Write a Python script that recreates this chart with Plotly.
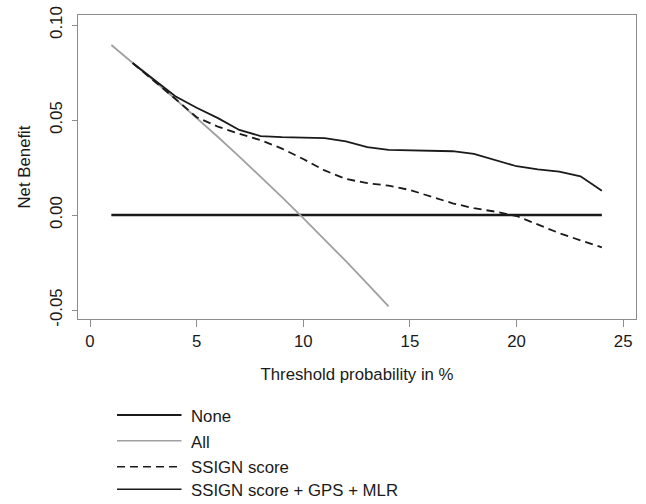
import plotly.graph_objects as go

# ---- data ----
thr_none = [1, 24]
nb_none = [0.0, 0.0]

thr_all = [1, 2, 3, 4, 5, 6, 7, 8, 9, 10, 11, 12, 13, 14]
nb_all = [0.0895, 0.0802, 0.0707, 0.0610, 0.0512, 0.0411, 0.0308, 0.0202,
          0.0094, -0.0016, -0.0128, -0.0243, -0.0361, -0.0481]

thr_model = list(range(2, 25))
nb_ssign = [0.0800, 0.0708, 0.0612, 0.0515, 0.0465, 0.0428, 0.0394, 0.0350,
            0.0295, 0.0235, 0.0190, 0.0168, 0.0155, 0.0132, 0.0098, 0.0062,
            0.0036, 0.0018, -0.0005, -0.0050, -0.0095, -0.0133, -0.0170]
nb_full = [0.0800, 0.0712, 0.0625, 0.0565, 0.0510, 0.0448, 0.0416, 0.0410,
           0.0409, 0.0405, 0.0388, 0.0358, 0.0343, 0.0340, 0.0339, 0.0336,
           0.0322, 0.0290, 0.0257, 0.0241, 0.0229, 0.0204, 0.0128]

x_ticks = [0, 5, 10, 15, 20, 25]
y_ticks = [-0.05, 0.0, 0.05, 0.10]
y_tick_text = ["-0.05", "0.00", "0.05", "0.10"]

legend_names = ["None", "All", "SSIGN score", "SSIGN score + GPS + MLR"]

# ---- styling ----
FONT = "Liberation Sans, Arial, Helvetica, sans-serif"
FS = 16.8
W, H = 646, 504
L, R, T, B = 78, 10, 15, 185
GRAY = "#8c8c8c"
INK = "#1a1a1a"

styles = [
    dict(color=INK, width=2.6, dash="solid"),
    dict(color="#a0a0a0", width=1.8, dash="solid"),
    dict(color=INK, width=1.8, dash="8px,5px"),
    dict(color=INK, width=1.8, dash="solid"),
]

fig = go.Figure()
series = [(thr_none, nb_none), (thr_all, nb_all),
          (thr_model, nb_ssign), (thr_model, nb_full)]
for (xs, ys), name, st in zip(series, legend_names, styles):
    fig.add_trace(go.Scatter(x=xs, y=ys, mode="lines", name=name,
                             line=st, showlegend=False,
                             hoverinfo="skip"))

# manual legend below the plot (pixel positions converted to paper coords)
pw, ph = W - L - R, H - T - B
def px2paper(xp, yp):
    return (xp - L) / pw, (H - B - yp) / ph

legend_line_y = [415.0, 440.7, 466.7, 489.3]
legend_text_y = [416.5, 442.5, 467.5, 490.0]
legend_lw = [2.2, 1.4, 1.6, 1.6]
for name, st, ly, ty, lw in zip(legend_names, styles, legend_line_y,
                                legend_text_y, legend_lw):
    x0, y0 = px2paper(117, ly)
    x1, _ = px2paper(181.5, ly)
    fig.add_shape(type="line", xref="paper", yref="paper",
                  x0=x0, x1=x1, y0=y0, y1=y0,
                  line=dict(color=st["color"], width=lw, dash=st["dash"]))
    tx, typ = px2paper(190, ty)
    fig.add_annotation(xref="paper", yref="paper", x=tx, y=typ, text=name,
                       showarrow=False, xanchor="left", yanchor="middle",
                       borderpad=0,
                       font=dict(family=FONT, size=FS, color=INK))

axis_common = dict(showgrid=False, zeroline=False, showline=True,
                   linecolor=GRAY, linewidth=1, mirror=True,
                   ticks="outside", tickcolor=GRAY, tickwidth=1,
                   automargin=False,
                   tickfont=dict(family=FONT, size=FS, color=INK))

fig.update_layout(
    template="none",
    width=W, height=H,
    margin=dict(l=L, r=R, t=T, b=B, autoexpand=False),
    paper_bgcolor="white", plot_bgcolor="white",
    font=dict(family=FONT, size=FS, color=INK),
    xaxis=dict(range=[-0.5625, 25.6], tickvals=x_ticks, ticklen=7,
               title=dict(text="Threshold probability in %", standoff=18,
                          font=dict(family=FONT, size=FS)),
               **axis_common),
    yaxis=dict(range=[-0.0547, 0.1053], tickvals=y_ticks,
               ticktext=y_tick_text, tickangle=-90, ticklen=5,
               ticklabelstandoff=3,
               title=dict(text="Net Benefit", standoff=12,
                          font=dict(family=FONT, size=FS)),
               **axis_common),
)

fig.write_html("out.html",
               config={"displayModeBar": False, "staticPlot": True},
               post_script="document.body.style.margin='0';"
                           "document.body.style.overflow='hidden';")
